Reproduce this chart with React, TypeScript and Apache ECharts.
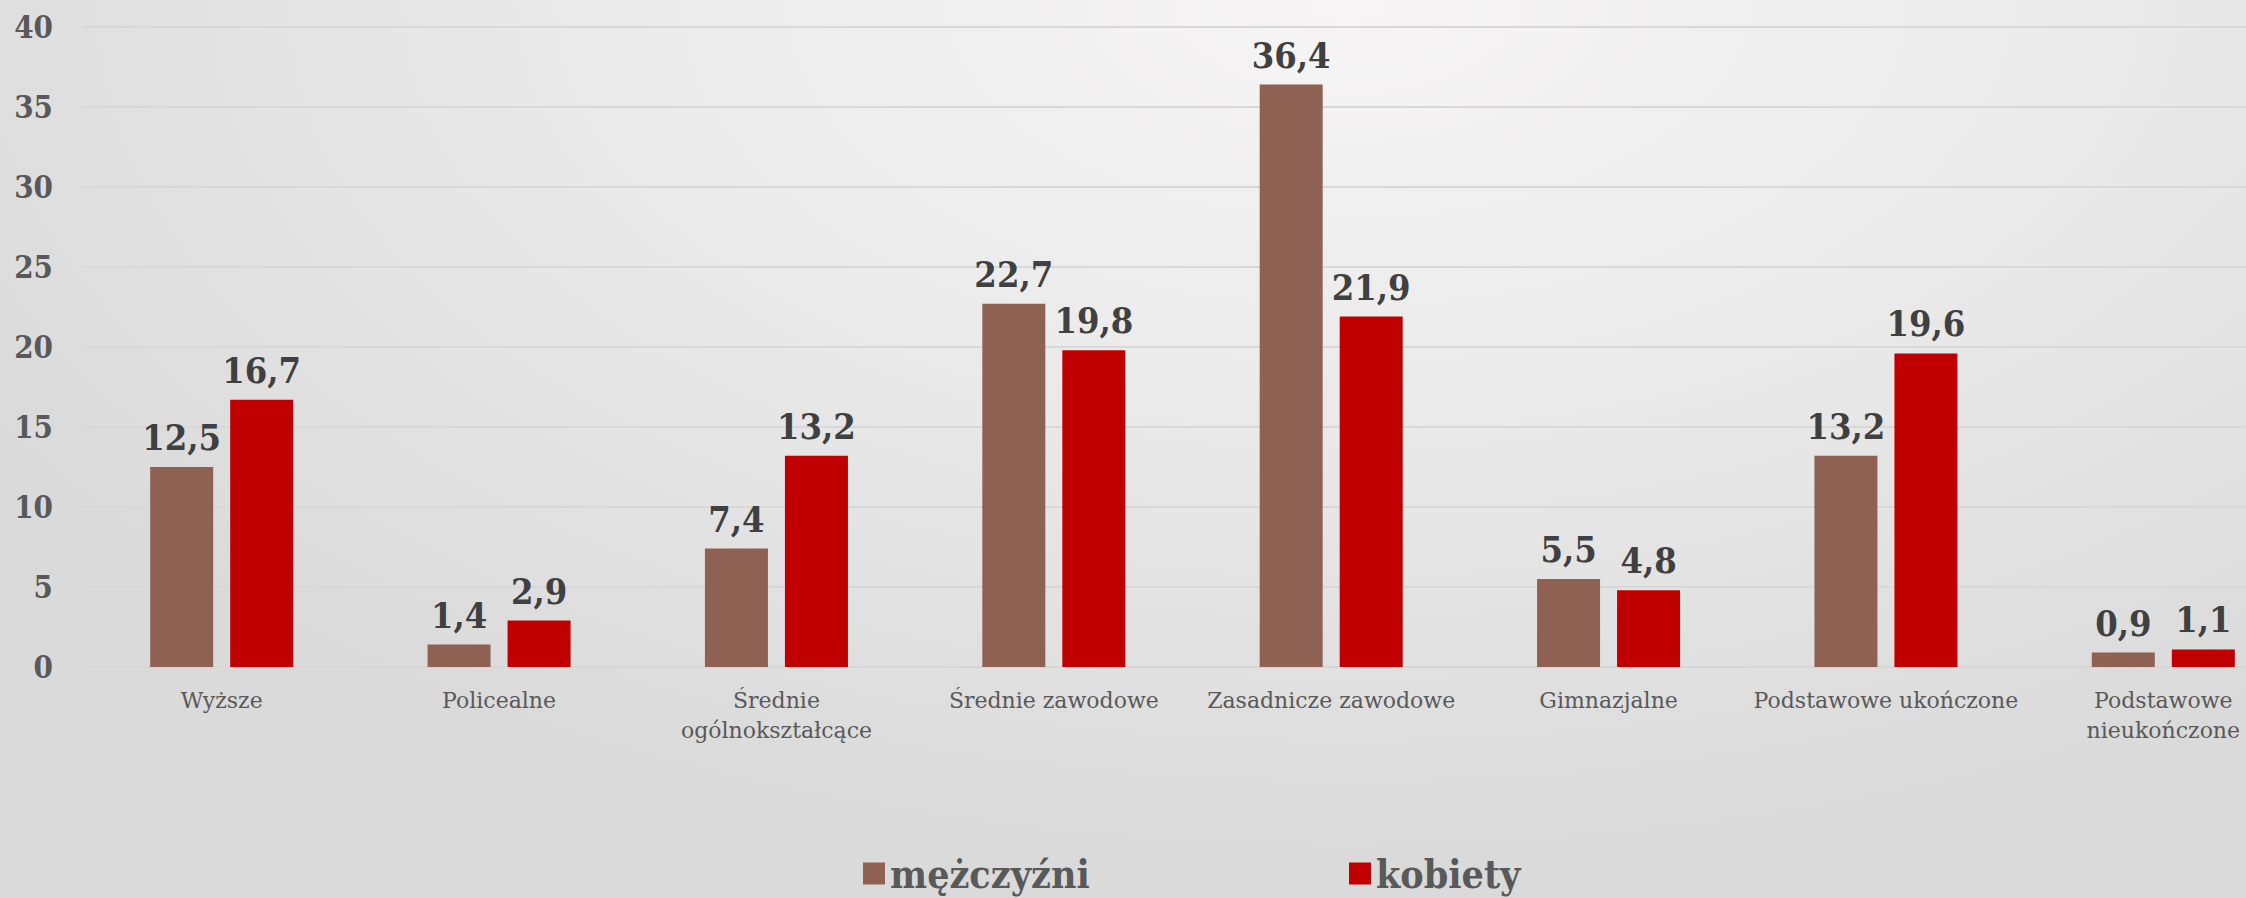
import React, { useEffect, useRef } from "react";
import * as echarts from "echarts";

const categories = [
  "Wyższe",
  "Policealne",
  "Średnie\nogólnokształcące",
  "Średnie zawodowe",
  "Zasadnicze zawodowe",
  "Gimnazjalne",
  "Podstawowe ukończone",
  "Podstawowe\nnieukończone",
];
const menValues = [12.5, 1.4, 7.4, 22.7, 36.4, 5.5, 13.2, 0.9];
const womenValues = [16.7, 2.9, 13.2, 19.8, 21.9, 4.8, 19.6, 1.1];
const seriesNames = ["mężczyźni", "kobiety"];
const seriesColors = ["#8F6152", "#C00000"];

const BOLD_FONT = "'DejaVu Serif Condensed', 'Liberation Serif', serif";
const REG_FONT = "'DejaVu Serif', serif";

export default function App() {
  const ref = useRef<HTMLDivElement>(null);
  useEffect(() => {
    document.body.style.margin = "0";
    if (!ref.current) return;
    const chart = echarts.init(ref.current, undefined, { renderer: "svg" });
    const fmt = (p: any) => Number(p.value).toFixed(1).replace(".", ",");
    const mkSeries = (name: string, data: number[], color: string) => ({
      name,
      type: "bar",
      data,
      barWidth: 63,
      barGap: "27%",
      itemStyle: { color },
      label: {
        show: true,
        position: "top",
        distance: 12,
        formatter: fmt,
        color: "#404040",
        fontFamily: BOLD_FONT,
        fontWeight: "bold",
        fontSize: 36,
      },
    });
    const legendText = {
      color: "#595959",
      fontFamily: BOLD_FONT,
      fontWeight: "bold",
      fontSize: 39,
      lineHeight: 39,
    };
    chart.setOption({
      animation: false,
      backgroundColor: "transparent",
      grid: { left: 83, right: 0, top: 27, bottom: 231, containLabel: false, outerBoundsMode: "none" },
      legend: [
        {
          data: [seriesNames[0]],
          left: 858,
          top: 849,
          icon: "rect",
          itemWidth: 22,
          itemHeight: 22,
          itemGap: 0,
          textStyle: legendText,
        },
        {
          data: [seriesNames[1]],
          left: 1344,
          top: 849,
          icon: "rect",
          itemWidth: 22,
          itemHeight: 22,
          itemGap: 0,
          textStyle: legendText,
        },
      ],
      xAxis: {
        type: "category",
        data: categories,
        axisLine: { lineStyle: { color: "#d6d6d6", width: 2 } },
        axisTick: { show: false },
        axisLabel: {
          interval: 0,
          margin: 18,
          color: "#595959",
          fontFamily: REG_FONT,
          fontSize: 22,
          lineHeight: 30,
        },
      },
      yAxis: {
        type: "value",
        min: 0,
        max: 40,
        interval: 5,
        axisLine: { show: false },
        axisTick: { show: false },
        splitLine: { lineStyle: { color: "#d8d8d8", width: 2 } },
        axisLabel: {
          margin: 30,
          color: "#595959",
          fontFamily: BOLD_FONT,
          fontWeight: "bold",
          fontSize: 31,
        },
      },
      series: [
        mkSeries(seriesNames[0], menValues, seriesColors[0]),
        mkSeries(seriesNames[1], womenValues, seriesColors[1]),
      ],
    });
    return () => chart.dispose();
  }, []);
  return (
    <div
      style={{
        width: 2246,
        height: 898,
        overflow: "hidden",
        position: "relative",
        background:
          "radial-gradient(ellipse 70% 95% at 60% 0%, #f7f5f6 0%, #ebebeb 45%, #dadada 100%)",
      }}
    >
      <div ref={ref} style={{ width: 2302, height: 898 }} />
    </div>
  );
}
